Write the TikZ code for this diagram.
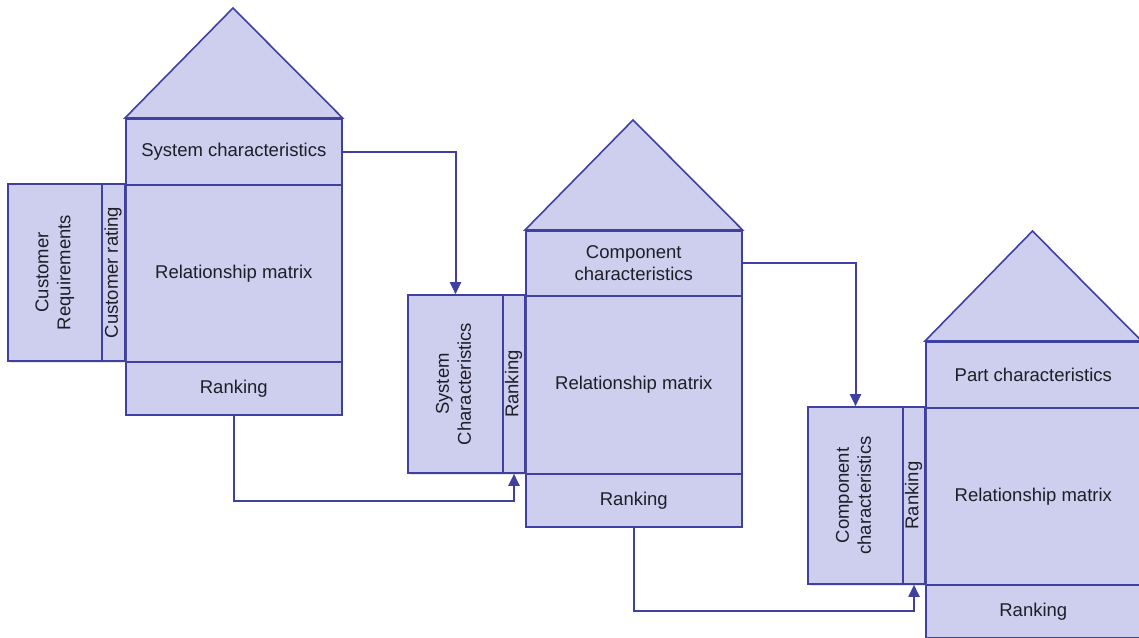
\documentclass[tikz,border=0pt]{standalone}
\usepackage{fontspec}
\setmainfont{Liberation Sans}
\usetikzlibrary{arrows.meta,shadows}
\definecolor{boxfill}{RGB}{206,206,238}
\definecolor{boxline}{RGB}{64,64,160}
\definecolor{txt}{RGB}{30,30,40}
\newcommand{\vtxt}[1]{\rotatebox{90}{\begin{tabular}{@{}c@{}}#1\end{tabular}}}
\tikzset{
  box/.style={draw=boxline, fill=boxfill, line width=1.6pt, inner sep=0pt,
    anchor=north west, align=center, text=txt,
    drop shadow={opacity=0.2, shadow xshift=1.5pt, shadow yshift=-1.5pt}},
  sidebox/.style={box, anchor=center},
  roof/.style={draw=boxline, fill=boxfill, line width=1.6pt, line join=miter},
  conn/.style={draw=boxline, line width=2pt, -{Triangle[length=12pt,width=11pt]}}
}
\begin{document}
\begin{tikzpicture}[x=1pt,y=-1pt, font=\fontsize{18.5}{22}\selectfont]
\path[use as bounding box] (0,0) rectangle (1139,637);
\clip (0,0) rectangle (1139,637);
% House 1
\node[box, minimum width=216pt, minimum height=66pt] (sc1) at (125,118) {System characteristics};
\node[box, minimum width=216pt, minimum height=177pt] (rm1) at (125,184) {Relationship matrix};
\node[box, minimum width=216pt, minimum height=53pt] (rk1) at (125,361) {Ranking};
\node[sidebox, minimum width=94pt, minimum height=177pt] (cr1) at (55,272.5) {\vtxt{Customer\\Requirements}};
\node[sidebox, minimum width=23pt, minimum height=177pt] (crt1) at (113.5,272.5) {\vtxt{Customer rating}};
\filldraw[roof] (sc1.north west) -- (233,8) -- (sc1.north east) -- cycle;
% House 2
\node[box, minimum width=216pt, minimum height=65pt] (cc2) at (525,230) {Component\\characteristics};
\node[box, minimum width=216pt, minimum height=178pt] (rm2) at (525,295) {Relationship matrix};
\node[box, minimum width=216pt, minimum height=53pt] (rk2) at (525,473) {Ranking};
\node[sidebox, minimum width=95pt, minimum height=178pt] (sys2) at (455.5,384) {\vtxt{System\\Characteristics}};
\node[sidebox, minimum width=22pt, minimum height=178pt] (rnk2) at (514,384) {\vtxt{Ranking}};
\filldraw[roof] (cc2.north west) -- (633,120) -- (cc2.north east) -- cycle;
% House 3
\node[box, minimum width=215pt, minimum height=66pt] (pc3) at (925,341) {Part characteristics};
\node[box, minimum width=215pt, minimum height=177pt] (rm3) at (925,407) {Relationship matrix};
\node[box, minimum width=215pt, minimum height=53pt] (rk3) at (925,584) {Ranking};
\node[sidebox, minimum width=95pt, minimum height=177pt] (comp3) at (855.5,495.5) {\vtxt{Component\\characteristics}};
\node[sidebox, minimum width=22pt, minimum height=177pt] (rnk3) at (914,495.5) {\vtxt{Ranking}};
\filldraw[roof] (pc3.north west) -- (1032.5,231) -- (pc3.north east) -- cycle;
% Connectors
\draw[conn] (sc1.east) -| (sys2.north);
\draw[conn] (rk1.south) |- ([yshift=-27pt]rnk2.south) -- (rnk2.south);
\draw[conn] (cc2.east) -| (comp3.north);
\draw[conn] (rk2.south) |- ([yshift=-26pt]rnk3.south) -- (rnk3.south);
\end{tikzpicture}
\end{document}
